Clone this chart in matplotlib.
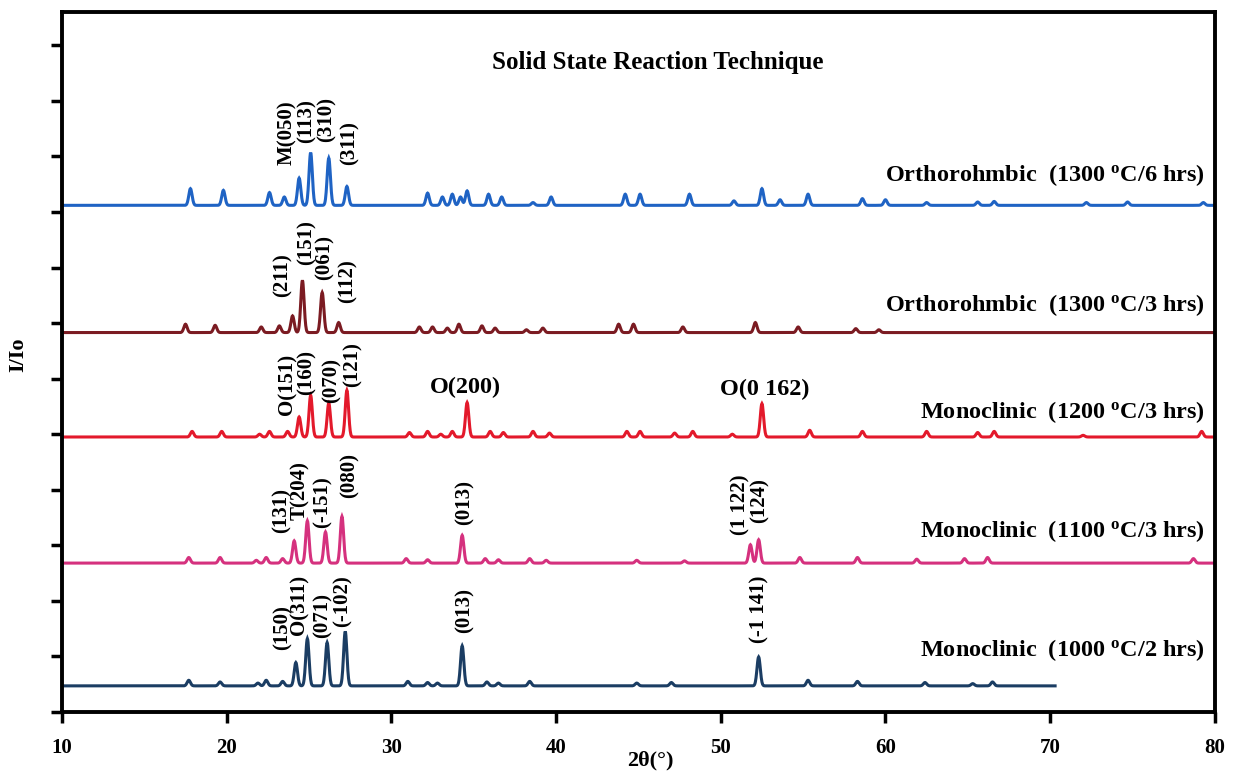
import numpy as np
import matplotlib.pyplot as plt

plt.rcParams['font.family'] = ['Liberation Serif', 'DejaVu Serif']
plt.rcParams['font.weight'] = 'bold'
plt.rcParams['mathtext.fontset'] = 'custom'
plt.rcParams['mathtext.rm'] = 'Liberation Serif:bold'
plt.rcParams['mathtext.it'] = 'Liberation Serif:bold'
plt.rcParams['mathtext.bf'] = 'Liberation Serif:bold'

# peak positions (2theta, deg) and relative heights for each sample
pk_1300_6 = [17.8, 19.8, 22.6, 23.5, 24.4, 25.1, 26.2, 27.3, 32.2, 33.1, 33.7, 34.2, 34.6,
             35.9, 36.7, 38.6, 39.7, 44.2, 45.1, 48.1, 50.8, 52.5, 53.6, 55.3, 58.6, 60.0,
             62.5, 65.6, 66.6, 72.2, 74.7, 79.3]
h_1300_6 = [0.30, 0.27, 0.23, 0.15, 0.49, 0.95, 0.85, 0.34, 0.22, 0.15, 0.20, 0.15, 0.26,
            0.20, 0.15, 0.05, 0.15, 0.20, 0.20, 0.20, 0.08, 0.30, 0.10, 0.20, 0.12, 0.10,
            0.05, 0.06, 0.07, 0.05, 0.06, 0.05]

pk_1300_3 = [17.5, 19.3, 22.1, 23.2, 24.0, 24.6, 25.8, 26.8, 31.7, 32.5, 33.4, 34.1, 35.5,
             36.3, 38.2, 39.2, 43.8, 44.7, 47.7, 52.1, 54.7, 58.2, 59.6]
h_1300_3 = [0.15, 0.13, 0.10, 0.12, 0.30, 0.94, 0.72, 0.18, 0.10, 0.10, 0.08, 0.15, 0.12,
            0.08, 0.05, 0.08, 0.15, 0.15, 0.10, 0.18, 0.10, 0.07, 0.05]

pk_1200_3 = [17.9, 19.7, 22.0, 22.6, 23.7, 24.4, 25.1, 26.2, 27.3, 31.1, 32.2, 33.0, 33.7,
             34.6, 36.0, 36.8, 38.6, 39.6, 44.3, 45.1, 47.2, 48.3, 50.7, 52.5, 55.4, 58.6,
             62.5, 65.6, 66.6, 72.0, 79.2]
h_1200_3 = [0.10, 0.10, 0.05, 0.10, 0.10, 0.36, 0.75, 0.61, 0.84, 0.08, 0.10, 0.05, 0.10,
            0.62, 0.10, 0.08, 0.10, 0.07, 0.10, 0.10, 0.07, 0.10, 0.05, 0.60, 0.12, 0.10,
            0.10, 0.08, 0.10, 0.03, 0.10]

pk_1100_3 = [17.7, 19.6, 21.8, 22.4, 23.4, 24.1, 24.9, 26.0, 27.0, 30.9, 32.2, 34.3, 35.7,
             36.5, 38.4, 39.4, 44.9, 47.8, 51.8, 52.3, 54.8, 58.3, 61.9, 64.8, 66.2, 78.7]
h_1100_3 = [0.10, 0.10, 0.05, 0.10, 0.08, 0.40, 0.76, 0.56, 0.84, 0.08, 0.06, 0.50, 0.08,
            0.06, 0.08, 0.05, 0.05, 0.04, 0.33, 0.42, 0.10, 0.10, 0.07, 0.08, 0.10, 0.08]

pk_1000_2 = [17.7, 19.6, 21.9, 22.4, 23.4, 24.2, 24.9, 26.1, 27.2, 31.0, 32.2, 32.8, 34.3,
             35.8, 36.5, 38.4, 44.9, 47.0, 52.3, 55.3, 58.3, 62.4, 65.3, 66.5]
h_1000_2 = [0.10, 0.07, 0.05, 0.10, 0.08, 0.42, 0.85, 0.78, 0.98, 0.08, 0.06, 0.05, 0.72,
            0.07, 0.05, 0.08, 0.05, 0.06, 0.52, 0.10, 0.08, 0.06, 0.04, 0.07]

offsets = [9.12, 6.83, 4.95, 2.68, 0.47]
x_end = [80, 80, 80, 80, 70.3]
colors = ['#1f63c4', '#7b1b22', '#e3192b', '#d5317e', '#1b3d63']
names = ['Orthorohmbic  (1300 $^{o}$C/6 hrs)', 'Orthorohmbic  (1300 $^{o}$C/3 hrs)',
         'Monoclinic  (1200 $^{o}$C/3 hrs)', 'Monoclinic  (1100 $^{o}$C/3 hrs)',
         'Monoclinic  (1000 $^{o}$C/2 hrs)']
name_y = [9.67, 7.33, 5.40, 3.26, 1.12]

peaks = [pk_1300_6, pk_1300_3, pk_1200_3, pk_1100_3, pk_1000_2]
heights = [h_1300_6, h_1300_3, h_1200_3, h_1100_3, h_1000_2]

# vertical (hkl) labels: text, 2theta, bottom of text
lab_1300_6 = [('M(050)', 23.66, 9.85), ('(113)', 24.88, 10.24), ('(310)', 26.09, 10.26), ('(311)', 27.49, 9.85)]
lab_1300_3 = [('(211)', 23.42, 7.47), ('(151)', 24.88, 8.05), ('(061)', 25.97, 7.78), ('(112)', 27.37, 7.36)]
lab_1200_3 = [('O(151)', 23.72, 5.35), ('(160)', 24.88, 5.71), ('(070)', 26.4, 5.56), ('(121)', 27.67, 5.85)]
lab_1100_3 = [('(131)', 23.36, 3.22), ('T(204)', 24.45, 3.46), ('(-151)', 25.85, 3.31), ('(080)', 27.49, 3.85),
              ('(013)', 34.47, 3.37), ('(1 122)', 51.2, 3.19), ('(124)', 52.38, 3.4)]
lab_1000_2 = [('(150)', 23.42, 1.12), ('O(311)', 24.45, 1.39), ('(071)', 25.85, 1.33), ('(-102)', 27.06, 1.53),
              ('(013)', 34.47, 1.42), ('(-1 141)', 52.38, 1.24)]

fig = plt.figure(figsize=(12.37, 7.76), dpi=100)
ax = fig.add_axes([0.0501, 0.0825, 0.932, 0.902])

for i in range(5):
    tt = np.arange(10, x_end[i] + 0.001, 0.02)
    yy = np.full_like(tt, offsets[i])
    for p, h in zip(peaks[i], heights[i]):
        yy += h * np.exp(-0.5 * ((tt - p) / 0.1) ** 2)
    ax.plot(tt, yy, color=colors[i], lw=2.2, solid_joinstyle='miter')
    ax.text(79.4, name_y[i], names[i], ha='right', va='center', fontsize=17.5, fontweight='bold')

for labs in [lab_1300_6, lab_1300_3, lab_1200_3, lab_1100_3, lab_1000_2]:
    for t, xp, yb in labs:
        ax.text(xp, yb, t, rotation=90, ha='center', va='bottom', fontsize=15, fontweight='bold')

ax.text(34.47, 5.85, 'O(200)', ha='center', va='center', fontsize=17.5, fontweight='bold')
ax.text(52.68, 5.8, 'O(0 162)', ha='center', va='center', fontsize=17.5, fontweight='bold')
ax.text(46.2, 11.7, 'Solid State Reaction Technique', ha='center', va='center', fontsize=18, fontweight='bold')

ax.set_xlim(10, 80)
ax.set_ylim(0, 12.6)
ax.set_xticks(range(10, 81, 10))
ax.set_yticks(range(0, 13))
ax.set_yticklabels([])
ax.tick_params(axis='both', direction='out', length=8, width=2.5, labelsize=15, pad=11)
for s in ax.spines.values():
    s.set_linewidth(2.8)
for lb in ax.get_xticklabels():
    lb.set_fontweight('bold')

fig.text(650 / 1237, 1 - 760 / 776, '2θ(°)', ha='center', va='center', fontsize=16, fontweight='bold')
fig.text(18 / 1237, 1 - 355 / 776, 'I/Io', ha='center', va='center', rotation=90, fontsize=16, fontweight='bold')

fig.savefig('out.png', dpi=100)
